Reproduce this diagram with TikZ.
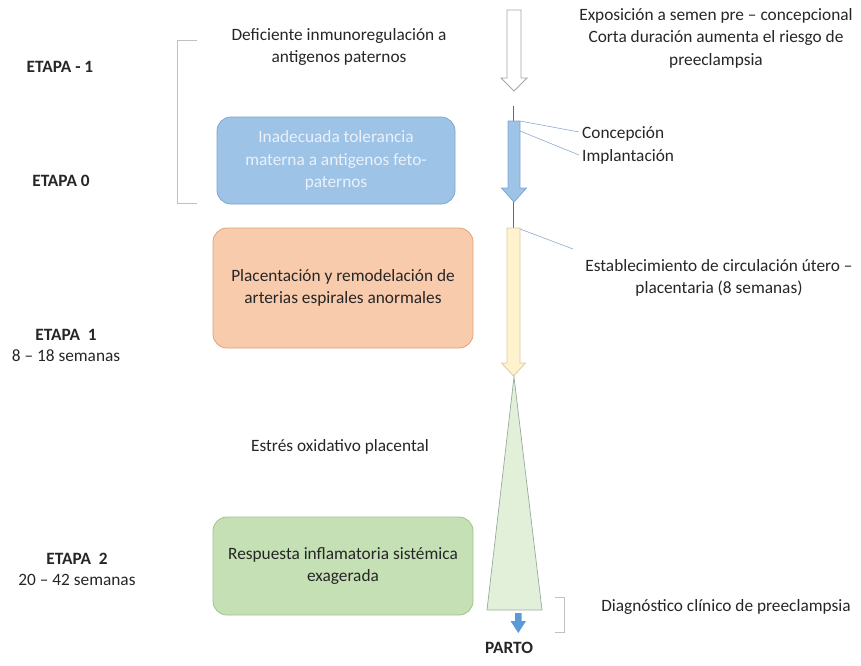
\documentclass[tikz,border=0pt]{standalone}
\usepackage{fontspec}
\setmainfont{Carlito}
\usepackage{tikz}
\usetikzlibrary{positioning,calc}
\usepackage{xcolor}
\definecolor{petext}{RGB}{38,38,38}
\definecolor{peline}{RGB}{142,169,200}
\definecolor{pegray}{RGB}{166,166,166}
\definecolor{pedarkblue}{RGB}{46,117,182}
\definecolor{peblue}{RGB}{157,195,230}
\definecolor{peblueborder}{RGB}{126,166,212}
\definecolor{peboxtext}{RGB}{234,241,250}
\definecolor{peorange}{RGB}{248,203,173}
\definecolor{peorangeborder}{RGB}{226,160,120}
\definecolor{pegreen}{RGB}{197,224,180}
\definecolor{pegreenborder}{RGB}{160,196,140}
\definecolor{peyellow}{RGB}{255,242,204}
\definecolor{peyellowborder}{RGB}{214,204,170}
\definecolor{pelightgreen}{RGB}{226,240,217}
\definecolor{petriborder}{RGB}{150,172,160}
\definecolor{pemidblue}{RGB}{91,155,213}
\tikzstyle{stagetext} = [inner sep=0pt, align=center, text=petext, font=\fontsize{17.3}{22.5}\selectfont]
\tikzstyle{stagehead} = [stagetext, font=\fontsize{17.3}{22.5}\selectfont\bfseries]
\tikzstyle{stagebox} = [rectangle, rounded corners=14pt, align=center, text=petext, thick, font=\fontsize{17.3}{22.5}\selectfont]
\tikzstyle{leader} = [color=peline, line width=0.6pt]
\tikzstyle{bracket} = [color=pegray!70, line width=0.8pt]

\begin{document}
\begin{tikzpicture}[x=1pt, y=-1pt]
    \useasboundingbox (0,0) rectangle (861,665);

    % Stages
    \node[stagehead] (etapam) at (60,67) {ETAPA - 1};
    \node[stagehead] (etapa0) at (61,181) {ETAPA 0};
    \node[stagehead] (etapa1) at (66,335) {ETAPA\ \ 1};
    \node[stagetext, below=9pt of etapa1] (sem1) {8 -- 18 semanas};
    \node[stagehead] (etapa2) at (77,559) {ETAPA\ \ 2};
    \node[stagetext, below=9pt of etapa2] (sem2) {20 -- 42 semanas};

    % Bracket
    \draw[bracket] (197,40) -- (177,40) -- (177,203) -- (197,203);

    % Boxes
    \node[stagetext] (defic) at (339,47) {Deficiente inmunoregulación a\\antigenos paternos};
    \node[stagebox, fill=peblue, draw=peblueborder, text=peboxtext, minimum width=238pt, minimum height=87pt] (toler) at (336,160.5) {Inadecuada tolerancia\\materna a antigenos feto-\\paternos};
    \node[stagebox, fill=peorange, draw=peorangeborder, minimum width=260pt, minimum height=120pt] (placen) at (343,288) {Placentación y remodelación de\\arterias espirales anormales};
    \node[stagetext] (estres) at (340,447) {Estrés oxidativo placental};
    \node[stagebox, fill=pegreen, draw=pegreenborder, minimum width=260pt, minimum height=98pt] (respu) at (343,566) {Respuesta inflamatoria sistémica\\exagerada};

    % Timeline
    \draw[color=pegray, fill=white, line width=0.8pt] (507,10) -- (521,10) -- (521,78) -- (527,78) -- (514,91) -- (501,78) -- (507,78) -- cycle;
    \draw[color=pedarkblue, line width=1.4pt] (513.5,106) -- (513.5,228);
    \draw[color=peblueborder, fill=peblue, line width=0.8pt] (508,121) -- (520,121) -- (520,188) -- (526.5,188) -- (514,202) -- (501.5,188) -- (508,188) -- cycle;
    \draw[color=peyellowborder, fill=peyellow, line width=0.8pt] (507,228) -- (520,228) -- (520,363) -- (525.5,363) -- (513.5,376) -- (501.5,363) -- (507,363) -- cycle;
    \draw[color=petriborder, fill=pelightgreen, line width=0.7pt] (514,377) -- (542,610) -- (487,610) -- cycle;
    \fill[pemidblue] (515,613) -- (521.5,613) -- (521.5,621) -- (526,621) -- (518.3,633) -- (510.5,621) -- (515,621) -- cycle;
    \node[stagehead] (parto) at (509,648) {PARTO};

    % Notes right
    \node[stagetext] (expos) at (716,38) {Exposición a semen pre -- concepcional\\Corta duración aumenta el riesgo de\\preeclampsia};
    \node[stagetext, anchor=west] (concep) at (582,134) {Concepción};
    \node[stagetext, anchor=west] (implan) at (582,157) {Implantación};
    \node[stagetext] (estab) at (719,278) {Establecimiento de circulación útero --\\placentaria (8 semanas)};
    \node[stagetext] (diagn) at (726,607) {Diagnóstico clínico de preeclampsia};

    % Leaders
    \coordinate (pconcep) at (520,121);
    \coordinate (pimplan) at (520,131);
    \coordinate (pestab) at (520,229);
    \draw[leader] (pconcep) -- ($(concep.west)+(-3,-2)$);
    \draw[leader] (pimplan) -- ($(implan.west)+(-3,-2)$);
    \draw[leader] (pestab) -- (573,249);
    \draw[bracket] (555,597) -- (564,597) -- (564,632) -- (555,632);
\end{tikzpicture}
\end{document}
